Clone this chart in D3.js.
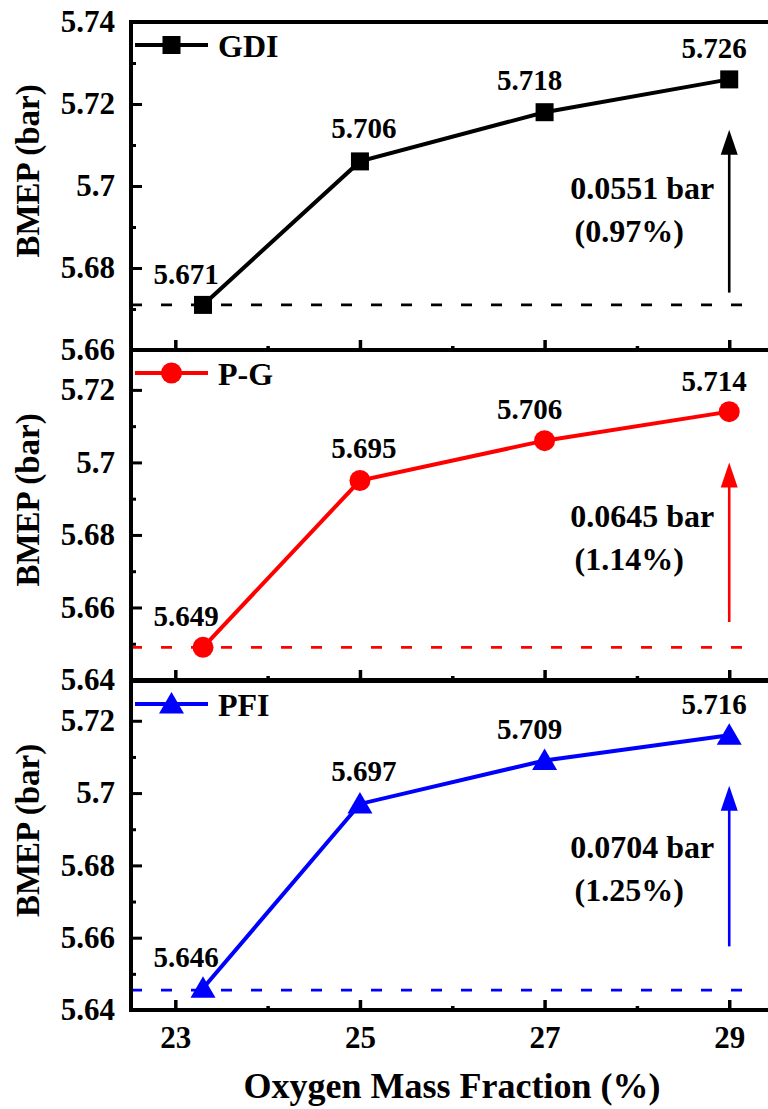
<!DOCTYPE html>
<html><head><meta charset="utf-8"><script src="https://cdn.jsdelivr.net/npm/d3@7"></script></head>
<body style="margin:0">
<svg id="chart" width="768" height="1109" style="display:block;background:#fff"></svg>
<script>
// ---------- DATA ----------
const xValues = [23.3, 25, 27, 29];
const xTickValues = [23, 25, 27, 29];
const xMinorTicks = [24, 26, 28];
const xTickLabels = ["23", "25", "27", "29"];

const seriesNames = ["GDI", "P-G", "PFI"];
const gdiValues = [5.671, 5.706, 5.718, 5.726];
const pgValues  = [5.649, 5.695, 5.706, 5.714];
const pfiValues = [5.646, 5.697, 5.709, 5.716];
const gdiLabels = ["5.671", "5.706", "5.718", "5.726"];
const pgLabels  = ["5.649", "5.695", "5.706", "5.714"];
const pfiLabels = ["5.646", "5.697", "5.709", "5.716"];

const yDomains = [[5.66, 5.74], [5.64, 5.731], [5.64, 5.731]];
const yMajorTicks = [
  [5.66, 5.68, 5.70, 5.72, 5.74],
  [5.64, 5.66, 5.68, 5.70, 5.72],
  [5.64, 5.66, 5.68, 5.70, 5.72]
];
const yTickLabels = [
  ["5.66", "5.68", "5.7", "5.72", "5.74"],
  ["5.64", "5.66", "5.68", "5.7", "5.72"],
  ["5.64", "5.66", "5.68", "5.7", "5.72"]
];
const yMinorTicks = [
  [5.67, 5.69, 5.71, 5.73],
  [5.65, 5.67, 5.69, 5.71],
  [5.65, 5.67, 5.69, 5.71]
];

const increaseTexts = ["0.0551 bar", "0.0645 bar", "0.0704 bar"];
const percentTexts  = ["(0.97%)", "(1.14%)", "(1.25%)"];
const arrowFrom = [5.674, 5.656, 5.6576];
const arrowTo   = [5.7137, 5.700, 5.702];
const baselineValues = [5.671, 5.649, 5.6455];

const yTitle = "BMEP (bar)";
const xTitle = "Oxygen Mass Fraction (%)";

// ---------- LAYOUT / STYLE ----------
const left = 131, right = 770;
const panelTops = [22, 350, 681];
const panelBottoms = [350, 680, 1010];
const colors = ["#000000", "#ff0000", "#0000ff"];
const markerTypes = ["square", "circle", "triangle"];
const labelDx = [-17, 4, -15, -15];
const labelDy = [-21, -23, -22, -21];

const svg = d3.select("#chart");
const x = d3.scaleLinear().domain([22.52, 29.42]).range([131, 768]);

const seriesValues = [gdiValues, pgValues, pfiValues];
const seriesLabels = [gdiLabels, pgLabels, pfiLabels];

function styleText(sel, size) {
  return sel.attr("font-size", size).attr("font-weight", "bold")
    .style("font-family", '"Liberation Serif"').attr("fill", "#000");
}
function txt(g, size) {
  return styleText(g.append("text"), size);
}

function drawMarker(g, type, cx, cy, color, scale) {
  scale = scale || 1;
  if (type === "square") {
    const s = 18 * scale;
    g.append("rect").attr("x", cx - s / 2).attr("y", cy - s / 2).attr("width", s).attr("height", s).attr("fill", color);
  } else if (type === "circle") {
    g.append("circle").attr("cx", cx).attr("cy", cy).attr("r", 10.5 * scale).attr("fill", color);
  } else {
    const pts = [[0, -12], [12.5, 9.5], [-12.5, 9.5]].map(p => [cx + p[0] * scale, cy + p[1] * scale]);
    g.append("path").attr("d", "M" + pts.map(p => p.join(",")).join("L") + "Z").attr("fill", color);
  }
}

seriesNames.forEach((name, i) => {
  const top = panelTops[i], bottom = panelBottoms[i];
  const y = d3.scaleLinear().domain(yDomains[i]).range([bottom, top]);
  const color = colors[i];
  const g = svg.append("g");

  g.append("line")
    .attr("x1", left).attr("x2", x(29.25))
    .attr("y1", y(baselineValues[i])).attr("y2", y(baselineValues[i]))
    .attr("stroke", color).attr("stroke-width", 2.6)
    .attr("stroke-dasharray", "11,19");

  const yAx = g.append("g").attr("transform", `translate(${left},0)`)
    .call(d3.axisLeft(y).tickValues(yMajorTicks[i]).tickSizeInner(-11).tickSizeOuter(0)
      .tickPadding(16).tickFormat((d, k) => yTickLabels[i][k]));
  yAx.attr("font-family", null).attr("font-size", null);
  yAx.select(".domain").remove();
  yAx.selectAll("line").attr("stroke", "#000").attr("stroke-width", 3);
  styleText(yAx.selectAll("text"), 31);

  const yMin = g.append("g").attr("transform", `translate(${left},0)`)
    .call(d3.axisLeft(y).tickValues(yMinorTicks[i]).tickSizeInner(-5).tickSizeOuter(0).tickFormat(""));
  yMin.select(".domain").remove();
  yMin.selectAll("line").attr("stroke", "#000").attr("stroke-width", 3);

  const xAx = g.append("g").attr("transform", `translate(0,${bottom})`)
    .call(d3.axisBottom(x).tickValues(xTickValues).tickSizeInner(-10).tickSizeOuter(0)
      .tickPadding(16).tickFormat((d, k) => i === 2 ? xTickLabels[k] : ""));
  xAx.attr("font-family", null).attr("font-size", null);
  xAx.select(".domain").remove();
  xAx.selectAll("line").attr("stroke", "#000").attr("stroke-width", 3.5);
  styleText(xAx.selectAll("text"), 31);

  const xMin = g.append("g").attr("transform", `translate(0,${bottom})`)
    .call(d3.axisBottom(x).tickValues(xMinorTicks).tickSizeInner(-4).tickSizeOuter(0).tickFormat(""));
  xMin.select(".domain").remove();
  xMin.selectAll("line").attr("stroke", "#000").attr("stroke-width", 3.5);

  g.append("path")
    .attr("d", `M${right},${top}H${left}V${bottom}H${right}`)
    .attr("fill", "none").attr("stroke", "#000").attr("stroke-width", 4);

  const pts = xValues.map((xv, k) => [x(xv), y(seriesValues[i][k])]);
  g.append("path").attr("d", d3.line()(pts))
    .attr("fill", "none").attr("stroke", color).attr("stroke-width", 4);
  pts.forEach(p => drawMarker(g, markerTypes[i], p[0], p[1], color));

  pts.forEach((p, k) => {
    txt(g, 29).attr("x", p[0] + labelDx[k]).attr("y", p[1] + labelDy[k])
      .attr("text-anchor", "middle").text(seriesLabels[i][k]);
  });

  const ax = x(29);
  const yTip = y(arrowTo[i]), yBase = y(arrowFrom[i]);
  const headLen = 25, headW = 8.5;
  g.append("line").attr("x1", ax).attr("x2", ax).attr("y1", yBase).attr("y2", yTip + headLen - 2)
    .attr("stroke", color).attr("stroke-width", 2.6);
  g.append("path")
    .attr("d", `M${ax},${yTip}L${ax + headW},${yTip + headLen}L${ax - headW},${yTip + headLen}Z`)
    .attr("fill", color);

  txt(g, 32).attr("x", ax - 87).attr("y", top + 177).attr("text-anchor", "middle").text(increaseTexts[i]);
  txt(g, 32).attr("x", ax - 100).attr("y", top + 220).attr("text-anchor", "middle").text(percentTexts[i]);

  const ly = top + 23;
  g.append("line").attr("x1", 135).attr("x2", 208).attr("y1", ly).attr("y2", ly)
    .attr("stroke", color).attr("stroke-width", 4);
  drawMarker(g, markerTypes[i], 171.5, ly, color, 1);
  txt(g, 32).attr("x", 218).attr("y", top + 35).text(name);

  txt(g, 33)
    .attr("transform", `translate(39,${(top + bottom) / 2 - 15}) rotate(-90)`)
    .attr("text-anchor", "middle").text(yTitle);
});

txt(svg, 36).attr("x", 452).attr("y", 1098).attr("text-anchor", "middle").text(xTitle);
</script>
</body>
</html>
